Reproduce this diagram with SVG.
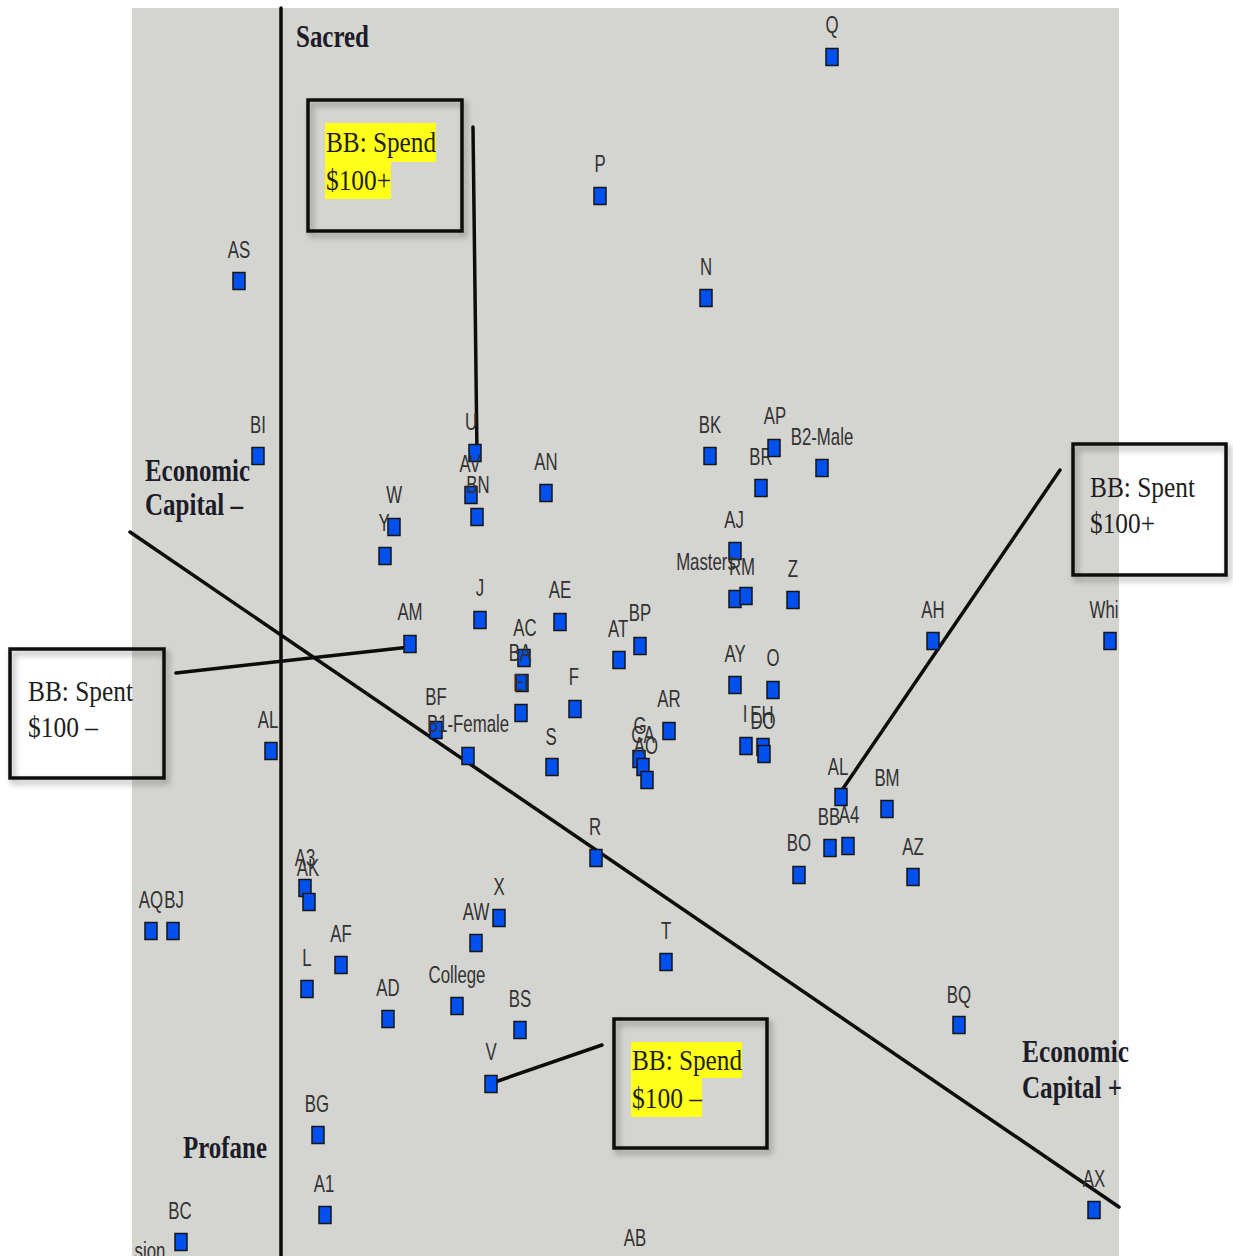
<svg xmlns="http://www.w3.org/2000/svg" width="1233" height="1256" viewBox="0 0 1233 1256">
<style>
.m{fill:#0050f0;stroke:#151515;stroke-width:1.5}
.l{font-family:"Liberation Sans",Arial,sans-serif;font-size:24px;fill:#323232;text-anchor:middle;transform-box:fill-box;transform-origin:center;transform:scaleX(0.7)}
.t{font-family:"Liberation Serif","Times New Roman",serif;font-size:31px;font-weight:bold;fill:#1c1c28}
.b{font-family:"Liberation Serif","Times New Roman",serif;font-size:30px;fill:#1e1e1e}
.box{fill:none;stroke:#111;stroke-width:3.5;filter:url(#sh)}
.ln{stroke:#0c0c0c;stroke-width:3.5;stroke-linecap:round;fill:none}
.hl{fill:#ffff1a}
</style>
<defs>
<filter id="sh" x="-10%" y="-10%" width="130%" height="130%"><feDropShadow dx="3" dy="4" stdDeviation="3" flood-color="#000" flood-opacity="0.35"/></filter>
<clipPath id="clipg"><rect x="132" y="8" width="987" height="1248"/></clipPath>
</defs>
<rect x="0" y="0" width="1233" height="1256" fill="#ffffff"/>
<rect id="plot" x="132" y="8" width="987" height="1248" fill="#d4d4d0"/>

<g id="axes">
<line class="ln" x1="281" y1="8" x2="281" y2="1256"/>
<line class="ln" x1="130" y1="532" x2="1119" y2="1207"/>
</g>

<g id="titles">
<text class="t" x="296" y="47" textLength="73" lengthAdjust="spacingAndGlyphs">Sacred</text>
<text class="t" x="145" y="481" textLength="105" lengthAdjust="spacingAndGlyphs">Economic</text>
<text class="t" x="145" y="515" textLength="98" lengthAdjust="spacingAndGlyphs">Capital –</text>
<text class="t" x="1022" y="1062" textLength="107" lengthAdjust="spacingAndGlyphs">Economic</text>
<text class="t" x="1022" y="1098" textLength="100" lengthAdjust="spacingAndGlyphs">Capital +</text>
<text class="t" x="183" y="1158" textLength="84" lengthAdjust="spacingAndGlyphs">Profane</text>
</g>

<g id="connectors">
<line class="ln" x1="473" y1="127" x2="477" y2="455"/>
<line class="ln" x1="176" y1="673" x2="410" y2="647"/>
<line class="ln" x1="1060" y1="470" x2="842" y2="790"/>
<line class="ln" x1="602" y1="1045" x2="492" y2="1083"/>
</g>

<g id="box-spend-plus">
<rect class="box" x="308" y="100" width="154" height="131"/>
<rect class="hl" x="325" y="123" width="111" height="39"/>
<rect class="hl" x="325" y="162" width="66" height="37"/>
<text class="b" x="326" y="152" textLength="110" lengthAdjust="spacingAndGlyphs">BB: Spend</text>
<text class="b" x="326" y="190" textLength="65" lengthAdjust="spacingAndGlyphs">$100+</text>
</g>
<g id="box-spent-plus">
<rect class="box" x="1073" y="444" width="153" height="131"/>
<text class="b" x="1090" y="497" textLength="105" lengthAdjust="spacingAndGlyphs">BB: Spent</text>
<text class="b" x="1090" y="533" textLength="65" lengthAdjust="spacingAndGlyphs">$100+</text>
</g>
<g id="box-spent-minus">
<rect class="box" x="10" y="649" width="154" height="129"/>
<text class="b" x="28" y="701" textLength="105" lengthAdjust="spacingAndGlyphs">BB: Spent</text>
<text class="b" x="28" y="737" textLength="70" lengthAdjust="spacingAndGlyphs">$100 –</text>
</g>
<g id="box-spend-minus">
<rect class="box" x="614" y="1019" width="153" height="129"/>
<rect class="hl" x="631" y="1042" width="111" height="36"/>
<rect class="hl" x="631" y="1078" width="71" height="39"/>
<text class="b" x="632" y="1070" textLength="110" lengthAdjust="spacingAndGlyphs">BB: Spend</text>
<text class="b" x="632" y="1108" textLength="70" lengthAdjust="spacingAndGlyphs">$100 –</text>
</g>

<g id="nodes">
<g id="n-Q"><rect class="m" x="826" y="48.5" width="12" height="17"/><text class="l" x="832" y="33">Q</text></g>
<g id="n-P"><rect class="m" x="594" y="187.5" width="12" height="17"/><text class="l" x="600" y="172">P</text></g>
<g id="n-N"><rect class="m" x="700" y="289.5" width="12" height="17"/><text class="l" x="706" y="275">N</text></g>
<g id="n-AS"><rect class="m" x="233" y="272.5" width="12" height="17"/><text class="l" x="239" y="258">AS</text></g>
<g id="n-BI"><rect class="m" x="252" y="447.5" width="12" height="17"/><text class="l" x="258" y="433">BI</text></g>
<g id="n-U"><rect class="m" x="469" y="444.5" width="12" height="17"/><text class="l" x="471" y="430">U</text></g>
<g id="n-AV"><rect class="m" x="465" y="486.5" width="12" height="17"/><text class="l" x="470" y="472">AV</text></g>
<g id="n-BN"><rect class="m" x="471" y="508.5" width="12" height="17"/><text class="l" x="478" y="493">BN</text></g>
<g id="n-AN"><rect class="m" x="540" y="484.5" width="12" height="17"/><text class="l" x="546" y="470">AN</text></g>
<g id="n-W"><rect class="m" x="388" y="518.5" width="12" height="17"/><text class="l" x="394" y="503">W</text></g>
<g id="n-Y"><rect class="m" x="379" y="547.5" width="12" height="17"/><text class="l" x="384" y="531">Y</text></g>
<g id="n-AM"><rect class="m" x="404" y="635.5" width="12" height="17"/><text class="l" x="410" y="620">AM</text></g>
<g id="n-J"><rect class="m" x="474" y="611.5" width="12" height="17"/><text class="l" x="480" y="596">J</text></g>
<g id="n-AE"><rect class="m" x="554" y="613.5" width="12" height="17"/><text class="l" x="560" y="598">AE</text></g>
<g id="n-AC"><rect class="m" x="518" y="649.5" width="12" height="17"/><text class="l" x="525" y="636">AC</text></g>
<g id="n-BA"><rect class="m" x="516" y="674.5" width="12" height="17"/><text class="l" x="520" y="661">BA</text></g>
<g id="n-EI"><rect class="m" x="515" y="704.5" width="12" height="17"/><text class="l" x="521" y="691">EI</text></g>
<g id="n-F"><rect class="m" x="569" y="700.5" width="12" height="17"/><text class="l" x="574" y="685">F</text></g>
<g id="n-BF"><rect class="m" x="430" y="721.5" width="12" height="17"/><text class="l" x="436" y="705">BF</text></g>
<g id="n-B1F"><rect class="m" x="462" y="747.5" width="12" height="17"/><text class="l" x="468" y="732">B1-Female</text></g>
<g id="n-S"><rect class="m" x="546" y="758.5" width="12" height="17"/><text class="l" x="551" y="745">S</text></g>
<g id="n-AT"><rect class="m" x="613" y="651.5" width="12" height="17"/><text class="l" x="618" y="637">AT</text></g>
<g id="n-BP"><rect class="m" x="634" y="637.5" width="12" height="17"/><text class="l" x="640" y="621">BP</text></g>
<g id="n-AR"><rect class="m" x="663" y="722.5" width="12" height="17"/><text class="l" x="669" y="707">AR</text></g>
<g id="n-G"><rect class="m" x="633" y="750.5" width="12" height="17"/><text class="l" x="640" y="734">G</text></g>
<g id="n-CA"><rect class="m" x="637" y="758.5" width="12" height="17"/><text class="l" x="643" y="743">CA</text></g>
<g id="n-AO"><rect class="m" x="641" y="771.5" width="12" height="17"/><text class="l" x="646" y="754">AO</text></g>
<g id="n-AY"><rect class="m" x="729" y="676.5" width="12" height="17"/><text class="l" x="735" y="662">AY</text></g>
<g id="n-O"><rect class="m" x="767" y="681.5" width="12" height="17"/><text class="l" x="773" y="666">O</text></g>
<g id="n-I"><rect class="m" x="740" y="737.5" width="12" height="17"/><text class="l" x="745" y="722">I</text></g>
<g id="n-EH"><rect class="m" x="757" y="738.5" width="12" height="17"/><text class="l" x="762" y="723">EH</text></g>
<g id="n-DO"><rect class="m" x="758" y="745.5" width="12" height="17"/><text class="l" x="763" y="729">DO</text></g>
<g id="n-AL2"><rect class="m" x="835" y="788.5" width="12" height="17"/><text class="l" x="838" y="775">AL</text></g>
<g id="n-BM"><rect class="m" x="881" y="800.5" width="12" height="17"/><text class="l" x="887" y="786">BM</text></g>
<g id="n-BB"><rect class="m" x="824" y="839.5" width="12" height="17"/><text class="l" x="829" y="825">BB</text></g>
<g id="n-A4"><rect class="m" x="842" y="837.5" width="12" height="17"/><text class="l" x="849" y="823">A4</text></g>
<g id="n-BO"><rect class="m" x="793" y="866.5" width="12" height="17"/><text class="l" x="799" y="851">BO</text></g>
<g id="n-AZ"><rect class="m" x="907" y="868.5" width="12" height="17"/><text class="l" x="913" y="855">AZ</text></g>
<g id="n-AH"><rect class="m" x="927" y="632.5" width="12" height="17"/><text class="l" x="933" y="618">AH</text></g>
<g id="n-Whi"><rect class="m" x="1104" y="632.5" width="12" height="17"/><g clip-path="url(#clipg)"><text class="l" x="1104" y="618">Whi</text></g></g>
<g id="n-BK"><rect class="m" x="704" y="447.5" width="12" height="17"/><text class="l" x="710" y="433">BK</text></g>
<g id="n-BR"><rect class="m" x="755" y="479.5" width="12" height="17"/><text class="l" x="761" y="465">BR</text></g>
<g id="n-AP"><rect class="m" x="768" y="439.5" width="12" height="17"/><text class="l" x="775" y="424">AP</text></g>
<g id="n-B2M"><rect class="m" x="816" y="459.5" width="12" height="17"/><text class="l" x="822" y="445">B2-Male</text></g>
<g id="n-AJ"><rect class="m" x="729" y="542.5" width="12" height="17"/><text class="l" x="734" y="528">AJ</text></g>
<g id="n-Masters"><rect class="m" x="729" y="590.5" width="12" height="17"/><text class="l" x="706" y="570">Masters</text></g>
<g id="n-RM"><rect class="m" x="740" y="587.5" width="12" height="17"/><text class="l" x="742" y="575">RM</text></g>
<g id="n-Z"><rect class="m" x="787" y="591.5" width="12" height="17"/><text class="l" x="793" y="577">Z</text></g>
<g id="n-AL1"><rect class="m" x="265" y="742.5" width="12" height="17"/><text class="l" x="268" y="728">AL</text></g>
<g id="n-AQ"><rect class="m" x="145" y="922.5" width="12" height="17"/><text class="l" x="151" y="908">AQ</text></g>
<g id="n-BJ"><rect class="m" x="167" y="922.5" width="12" height="17"/><text class="l" x="174" y="908">BJ</text></g>
<g id="n-A3"><rect class="m" x="299" y="879.5" width="12" height="17"/><text class="l" x="305" y="866">A3</text></g>
<g id="n-AK"><rect class="m" x="303" y="893.5" width="12" height="17"/><text class="l" x="308" y="876">AK</text></g>
<g id="n-AF"><rect class="m" x="335" y="956.5" width="12" height="17"/><text class="l" x="341" y="942">AF</text></g>
<g id="n-L"><rect class="m" x="301" y="980.5" width="12" height="17"/><text class="l" x="307" y="966">L</text></g>
<g id="n-AD"><rect class="m" x="382" y="1010.5" width="12" height="17"/><text class="l" x="388" y="996">AD</text></g>
<g id="n-College"><rect class="m" x="451" y="997.5" width="12" height="17"/><text class="l" x="457" y="983">College</text></g>
<g id="n-AW"><rect class="m" x="470" y="934.5" width="12" height="17"/><text class="l" x="476" y="920">AW</text></g>
<g id="n-X"><rect class="m" x="493" y="909.5" width="12" height="17"/><text class="l" x="499" y="895">X</text></g>
<g id="n-BS"><rect class="m" x="514" y="1021.5" width="12" height="17"/><text class="l" x="520" y="1007">BS</text></g>
<g id="n-V"><rect class="m" x="485" y="1075.5" width="12" height="17"/><text class="l" x="491" y="1060">V</text></g>
<g id="n-T"><rect class="m" x="660" y="953.5" width="12" height="17"/><text class="l" x="666" y="939">T</text></g>
<g id="n-R"><rect class="m" x="590" y="849.5" width="12" height="17"/><text class="l" x="595" y="835">R</text></g>
<g id="n-BQ"><rect class="m" x="953" y="1016.5" width="12" height="17"/><text class="l" x="959" y="1003">BQ</text></g>
<g id="n-BG"><rect class="m" x="312" y="1126.5" width="12" height="17"/><text class="l" x="317" y="1112">BG</text></g>
<g id="n-A1"><rect class="m" x="319" y="1206.5" width="12" height="17"/><text class="l" x="324" y="1192">A1</text></g>
<g id="n-BC"><rect class="m" x="175" y="1233.5" width="12" height="17"/><text class="l" x="180" y="1219">BC</text></g>
<g id="n-sion"><g clip-path="url(#clipg)"><text class="l" x="150" y="1259">sion</text></g></g>
<g id="n-AB"><text class="l" x="635" y="1246">AB</text></g>
<g id="n-AX"><rect class="m" x="1088" y="1201.5" width="12" height="17"/><text class="l" x="1094" y="1187">AX</text></g>
</g>
</svg>
